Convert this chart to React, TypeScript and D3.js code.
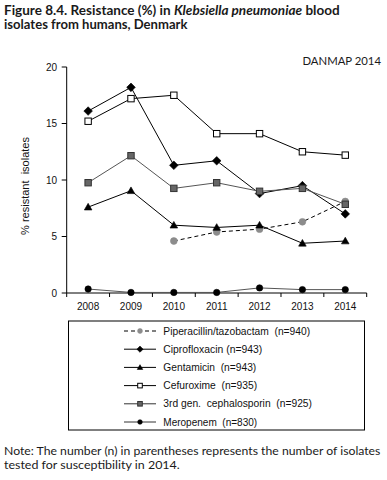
import React, { useLayoutEffect, useRef, useState } from "react";
import * as d3 from "d3";

const years = ["2008", "2009", "2010", "2011", "2012", "2013", "2014"];
const yTicks = [0, 5, 10, 15, 20];

const piperacillin: (number | null)[] = [null, null, 4.6, 5.4, 5.65, 6.3, 8.1];
const ciprofloxacin = [16.1, 18.2, 11.3, 11.7, 8.8, 9.5, 7.0];
const gentamicin = [7.6, 9.05, 6.0, 5.8, 6.0, 4.4, 4.6];
const cefuroxime = [15.2, 17.2, 17.5, 14.1, 14.1, 12.5, 12.2];
const thirdGen = [9.76, 12.15, 9.26, 9.76, 9.0, 9.26, 7.85];
const meropenem = [0.35, 0.05, 0.05, 0.05, 0.45, 0.3, 0.3];

const legendLabels = [
  "Piperacillin/tazobactam\u00A0 (n=940)",
  "Ciprofloxacin (n=943)",
  "Gentamicin\u00A0 (n=943)",
  "Cefuroxime\u00A0 (n=935)",
  "3rd gen.\u00A0 cephalosporin\u00A0 (n=925)",
  "Meropenem\u00A0 (n=830)",
];
const legendWidths = [147, 99, 93, 94, 149, 94];

type Series = {
  values: (number | null)[];
  marker: "circle" | "diamond" | "triangle" | "square";
  fill: string;
  stroke: string;
  line: string;
  dash?: string;
  size: number;
};

const series: Series[] = [
  { values: piperacillin, marker: "circle", fill: "#8c8c8c", stroke: "#8c8c8c", line: "#000", dash: "4,3", size: 3.4 },
  { values: ciprofloxacin, marker: "diamond", fill: "#000", stroke: "#000", line: "#000", size: 4.3 },
  { values: gentamicin, marker: "triangle", fill: "#000", stroke: "#000", line: "#000", size: 3.8 },
  { values: cefuroxime, marker: "square", fill: "#fff", stroke: "#000", line: "#000", size: 3.2 },
  { values: thirdGen, marker: "square", fill: "#666", stroke: "#333", line: "#555", size: 3.2 },
  { values: meropenem, marker: "circle", fill: "#000", stroke: "#000", line: "#555", size: 3.2 },
];

const FONT = "Liberation Sans, Arial, sans-serif";
const TFONT = "Lato, Open Sans, sans-serif";

function FitText({
  x, y, width, rotate = 0, anchor = "start", children, ...rest
}: {
  x: number; y: number; width: number; rotate?: number; anchor?: "start" | "middle" | "end"; children: React.ReactNode; [k: string]: any;
}) {
  const ref = useRef<SVGTextElement>(null);
  const [k, setK] = useState(1);
  useLayoutEffect(() => {
    const el = ref.current;
    if (!el) return;
    const w = el.getBBox().width;
    if (w > 0) setK(width / w);
  }, [width]);
  return (
    <g transform={`translate(${x},${y}) rotate(${rotate}) scale(${k},1)`}>
      <text ref={ref} x={0} y={0} textAnchor={anchor} {...rest}>
        {children}
      </text>
    </g>
  );
}

function Marker({ s, x, y, scale = 1 }: { s: Series; x: number; y: number; scale?: number }) {
  const r = s.size * scale;
  if (s.marker === "circle") return <circle cx={x} cy={y} r={r} fill={s.fill} stroke={s.stroke} strokeWidth={0.6} />;
  if (s.marker === "diamond")
    return <path d={`M${x},${y - r}L${x + r},${y}L${x},${y + r}L${x - r},${y}Z`} fill={s.fill} stroke={s.stroke} strokeWidth={0.6} />;
  if (s.marker === "triangle")
    return <path d={`M${x},${y - r}L${x + r},${y + r * 0.75}L${x - r},${y + r * 0.75}Z`} fill={s.fill} stroke={s.stroke} strokeWidth={0.6} />;
  return <rect x={x - r} y={y - r} width={2 * r} height={2 * r} fill={s.fill} stroke={s.stroke} strokeWidth={1} />;
}

export default function App() {
  const x0 = 66.7, x1 = 366.7, yTop = 67, yBot = 293;
  const x = d3.scaleBand<string>().domain(years).range([x0, x1]);
  const y = d3.scaleLinear().domain([0, 20]).range([yBot, yTop]);
  const cx = (yr: string) => (x(yr) as number) + x.bandwidth() / 2;

  const line = d3
    .line<number | null>()
    .defined((d) => d !== null)
    .x((_, i) => cx(years[i]))
    .y((d) => y(d as number));

  const legX = 68.5, legY = 321, legW = 296, legH = 109;
  const rowY = (i: number) => 331 + i * 18.2;

  return (
    <svg width={387} height={480} style={{ position: "absolute", left: 0, top: 0 }} fontFamily={FONT}>
      <rect width={387} height={480} fill="#fff" />
      <FitText x={4} y={15} width={336} fontFamily={TFONT} fontWeight={700} fontSize={12.5} fill="#1a1a1a">
        Figure 8.4. Resistance (%) in <tspan fontStyle="italic">Klebsiella pneumoniae</tspan> blood
      </FitText>
      <FitText x={4} y={28.5} width={184} fontFamily={TFONT} fontWeight={700} fontSize={12.5} fill="#1a1a1a">
        isolates from humans, Denmark
      </FitText>
      <FitText x={381} y={65} width={79} anchor="end" fontFamily={TFONT} fontSize={11.5} fill="#1a1a1a">
        DANMAP 2014
      </FitText>

      {/* y axis */}
      <line x1={x0} x2={x0} y1={yTop} y2={yBot} stroke="#000" strokeWidth={1} />
      {yTicks.map((t) => (
        <g key={t}>
          <line x1={x0 - 5} x2={x0} y1={y(t)} y2={y(t)} stroke="#000" />
          <text x={57} y={y(t) + 3.5} textAnchor="end" fontSize={10} fill="#111">
            {t}
          </text>
        </g>
      ))}
      <FitText x={28.5} y={186} width={98} rotate={-90} anchor="middle" fontSize={10} fill="#111">
        {"% resistant\u00A0 isolates"}
      </FitText>

      {/* x axis */}
      <line x1={x0} x2={x1} y1={yBot} y2={yBot} stroke="#000" />
      {[...years.map((yr) => x(yr) as number), x1].map((t, i) => (
        <line key={i} x1={t} x2={t} y1={yBot} y2={yBot + 4} stroke="#000" />
      ))}
      {years.map((yr) => (
        <text key={yr} x={cx(yr)} y={310} textAnchor="middle" fontSize={10} fill="#111">
          {yr}
        </text>
      ))}

      {/* series */}
      {series.map((s, si) => (
        <g key={si}>
          <path d={line(s.values) || ""} fill="none" stroke={s.line} strokeWidth={1} strokeDasharray={s.dash} />
          {s.values.map((v, i) =>
            v === null ? null : <Marker key={i} s={s} x={cx(years[i])} y={y(v)} />
          )}
        </g>
      ))}

      {/* legend */}
      <rect x={legX} y={legY} width={legW} height={legH} fill="none" stroke="#000" strokeWidth={1} />
      {series.map((s, i) => (
        <g key={i}>
          <line x1={124} x2={156} y1={rowY(i)} y2={rowY(i)} stroke={s.line === "#555" ? "#333" : "#000"} strokeDasharray={s.dash} />
          <Marker s={s} x={140} y={rowY(i)} scale={0.72} />
          <FitText x={163.3} y={rowY(i) + 3.5} width={legendWidths[i]} fontSize={10} fill="#111">
            {legendLabels[i]}
          </FitText>
        </g>
      ))}

      <FitText x={4} y={455} width={377} fontFamily={TFONT} fontSize={11} fill="#1a1a1a">
        Note: The number (n) in parentheses represents the number of isolates
      </FitText>
      <FitText x={4} y={469} width={176} fontFamily={TFONT} fontSize={11} fill="#1a1a1a">
        tested for susceptibility in 2014.
      </FitText>
    </svg>
  );
}
